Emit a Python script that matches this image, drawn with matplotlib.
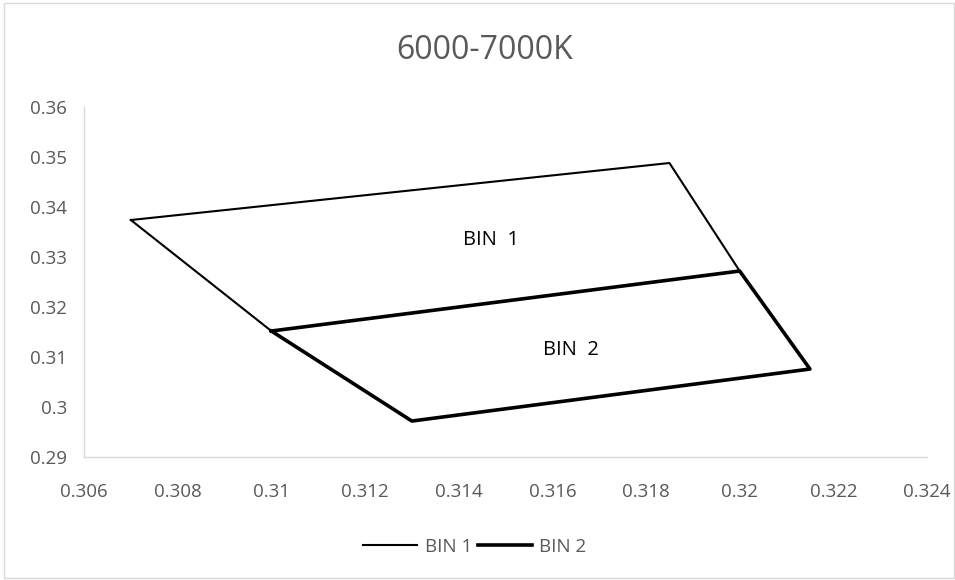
import matplotlib.pyplot as plt
from matplotlib.patches import Rectangle

# corner points of the two bins (x, y chromaticity), closed polygons
bin1_x = [0.307, 0.3185, 0.320, 0.310, 0.307]
bin1_y = [0.3374, 0.3488, 0.3272, 0.3152, 0.3374]
bin2_x = [0.310, 0.320, 0.3215, 0.313, 0.310]
bin2_y = [0.3152, 0.3272, 0.3076, 0.2972, 0.3152]

x_ticks = [0.306, 0.308, 0.31, 0.312, 0.314, 0.316, 0.318, 0.32, 0.322, 0.324]
y_ticks = [0.29, 0.3, 0.31, 0.32, 0.33, 0.34, 0.35, 0.36]
x_labels = ['0.306', '0.308', '0.31', '0.312', '0.314', '0.316', '0.318', '0.32', '0.322', '0.324']
y_labels = ['0.29', '0.3', '0.31', '0.32', '0.33', '0.34', '0.35', '0.36']

plt.rcParams['font.family'] = ['Open Sans', 'DejaVu Sans']
grey = '#595959'

fig = plt.figure(figsize=(9.55, 5.8), dpi=100)
fig.patches.append(Rectangle((0.004, 0.004), 0.995, 0.99, transform=fig.transFigure,
                             fill=False, edgecolor='#d9d9d9', linewidth=1))
ax = fig.add_axes([0.088, 0.212, 0.8827, 0.6035])

ax.plot(bin1_x, bin1_y, color='black', linewidth=1.5, label='BIN 1')
ax.plot(bin2_x, bin2_y, color='black', linewidth=2.6, label='BIN 2')

ax.text(0.3147, 0.3334, 'BIN  1', fontsize=14.5, ha='center', va='center', color='black')
ax.text(0.3164, 0.3114, 'BIN  2', fontsize=14.5, ha='center', va='center', color='black')

ax.set_xlim(0.306, 0.324)
ax.set_ylim(0.29, 0.36)
ax.set_xticks(x_ticks)
ax.set_xticklabels(x_labels)
ax.set_yticks(y_ticks)
ax.set_yticklabels(y_labels)
ax.tick_params(axis='both', length=0, labelsize=13.5, labelcolor=grey)
ax.tick_params(axis='x', pad=19)
ax.tick_params(axis='y', pad=12)

for s in ['top', 'right']:
    ax.spines[s].set_visible(False)
for s in ['left', 'bottom']:
    ax.spines[s].set_color('#d9d9d9')
    ax.spines[s].set_linewidth(1)

fig.text(0.507, 0.913, '6000-7000K', fontsize=23, color=grey, ha='center', va='center')

fig.legend(loc='center', bbox_to_anchor=(0.497, 0.057), ncol=2, frameon=False,
           fontsize=13.5, labelcolor=grey, handlelength=2.9, columnspacing=0.3,
           handletextpad=0.4)

fig.savefig('out.png', dpi=100)
